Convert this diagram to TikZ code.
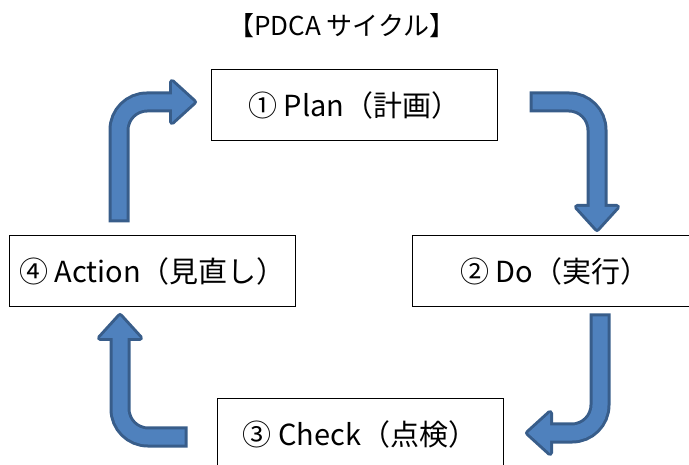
\documentclass[tikz,border=0pt]{standalone}
\usepackage{fontspec}
\setmainfont{Noto Sans CJK JP}
\usetikzlibrary{calc}
\usetikzlibrary{positioning}
\definecolor{arrowfill}{HTML}{4F81BD}
\definecolor{arrowline}{HTML}{385D8A}
\tikzstyle{stepbox} = [draw, line width=1pt, minimum width=286pt, minimum height=71pt, inner sep=0pt, font=\fontsize{29}{34}\selectfont]
\tikzstyle{shaftout} = [draw=arrowline, line width=21pt, line cap=rect, rounded corners=28pt]
\tikzstyle{shaftin} = [draw=arrowfill, line width=15pt, line cap=rect, rounded corners=28pt]
\tikzstyle{headout} = [fill=arrowline, draw=arrowline, line width=6pt, line join=round]

% bent block arrow: start, corner, tip
\newcommand{\cyclearrow}[3]{%
  \coordinate (hb) at ($(#3)!22pt!(#2)$);
  \draw[shaftout] (#1) -- (#2) -- (hb);
  \filldraw[headout] ($(hb)!20pt!90:(#3)$) -- (#3) -- ($(hb)!20pt!-90:(#3)$) -- cycle;
  \draw[shaftin] (#1) -- (#2) -- (hb);
  \fill[arrowfill] ($(hb)!20pt!90:(#3)$) -- (#3) -- ($(hb)!20pt!-90:(#3)$) -- cycle;
}

\begin{document}
\begin{tikzpicture}[x=1pt, y=-1pt]
\useasboundingbox (0,0) rectangle (689,465);

\node[font=\fontsize{26}{30}\selectfont] (title) at (342,26) {【PDCA サイクル】};

\node[stepbox] (plan) at (354.5,105.5) {① Plan（計画）};
\node[stepbox] (do) at (555,271) {② Do（実行）};
\node[stepbox] (check) at (360,434.5) {③ Check（点検）};
\node[stepbox] (action) at (152.5,271.5) {④ Action（見直し）};

% arrow ends
\coordinate (a1s) at (119,212);
\coordinate (a1c) at (119,102);
\coordinate (a1t) at (194,102);
\coordinate (a2s) at (540,102);
\coordinate (a2c) at (597,102);
\coordinate (a2t) at (597,229);
\coordinate (a3s) at (600,324);
\coordinate (a3c) at (600,433);
\coordinate (a3t) at (528,433);
\coordinate (a4s) at (177,437);
\coordinate (a4c) at (120,437);
\coordinate (a4t) at (120,316);

\cyclearrow{a1s}{a1c}{a1t}
\cyclearrow{a2s}{a2c}{a2t}
\cyclearrow{a3s}{a3c}{a3t}
\cyclearrow{a4s}{a4c}{a4t}
\end{tikzpicture}
\end{document}
